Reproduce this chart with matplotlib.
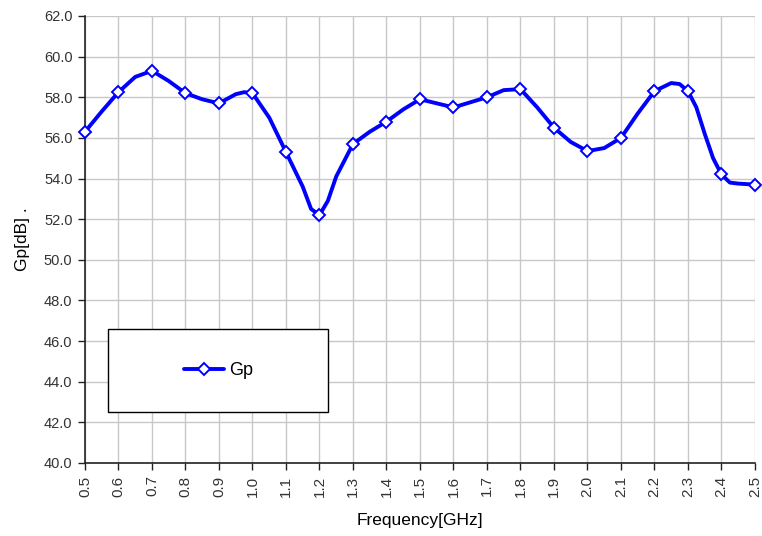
import matplotlib
matplotlib.use('Agg')
import matplotlib.pyplot as plt
from matplotlib.patches import Rectangle
import numpy as np

plt.rcParams['font.family'] = ['Liberation Sans', 'DejaVu Sans']

# measured curve (GHz, dB)
freq = [0.50, 0.55, 0.60, 0.65, 0.70, 0.75, 0.80, 0.85, 0.90, 0.95, 0.975,
        1.00, 1.05, 1.10, 1.15, 1.175, 1.20, 1.225, 1.25, 1.30, 1.35, 1.40,
        1.45, 1.50, 1.55, 1.60, 1.65, 1.70, 1.75, 1.80, 1.85, 1.90, 1.95,
        2.00, 2.05, 2.10, 2.15, 2.20, 2.25, 2.275, 2.30, 2.325, 2.35, 2.375,
        2.40, 2.425, 2.45, 2.50]
gp = [56.3, 57.3, 58.25, 59.0, 59.3, 58.8, 58.2, 57.9, 57.7, 58.15, 58.25,
      58.2, 57.0, 55.3, 53.6, 52.5, 52.2, 52.9, 54.1, 55.7, 56.3, 56.8,
      57.4, 57.9, 57.7, 57.5, 57.75, 58.0, 58.35, 58.4, 57.5, 56.5, 55.8,
      55.35, 55.5, 56.0, 57.2, 58.3, 58.7, 58.65, 58.3, 57.5, 56.2, 55.0,
      54.2, 53.8, 53.75, 53.7]

x_ticks = [round(0.5 + 0.1 * i, 1) for i in range(21)]
y_ticks = [40 + 2 * i for i in range(12)]

# markers only at the 0.1 GHz points
mark_idx = [i for i, f in enumerate(freq) if abs(round(f * 10) - f * 10) < 1e-6]

fig = plt.figure(figsize=(7.62, 5.36), dpi=100)
ax = fig.add_axes([0.1115, 0.1362, 0.8793, 0.834])

ax.plot(freq, gp, color='#0000ff', lw=2.8, marker='D', markersize=6,
        markerfacecolor='white', markeredgecolor='#0000ff', markeredgewidth=1.4,
        markevery=mark_idx, label='Gp', zorder=3, clip_on=False,
        solid_joinstyle='round', solid_capstyle='round')

ax.set_xlim(0.5, 2.5)
ax.set_ylim(40, 62)
ax.set_xticks(x_ticks)
ax.set_xticklabels(['{:.1f}'.format(v) for v in x_ticks], rotation=90, fontsize=11, color='#333333')
ax.set_yticks(y_ticks)
ax.set_yticklabels(['{:.1f}'.format(v) for v in y_ticks], fontsize=10.5, color='#333333')
ax.grid(True, color='#c8c8c8', lw=1)
ax.set_axisbelow(True)
for s in ['top', 'right']:
    ax.spines[s].set_visible(False)
for s in ['left', 'bottom']:
    ax.spines[s].set_color('#222222')
    ax.spines[s].set_linewidth(1.2)
ax.tick_params(direction='out', length=5, width=1, color='#222222', pad=4)

ax.set_xlabel('Frequency[GHz]', fontsize=12.5, labelpad=12)
ax.set_ylabel('Gp[dB] .', fontsize=12.5, labelpad=10)

# legend box
box = Rectangle((0.034, 0.114), 0.329, 0.186, transform=ax.transAxes,
                facecolor='white', edgecolor='black', lw=1, zorder=4)
ax.add_patch(box)
leg = ax.legend(loc='center', bbox_to_anchor=(0.2, 0.207), frameon=False,
                fontsize=13, handlelength=2.2, handletextpad=0.3)
leg.set_zorder(5)

fig.savefig('out.png', dpi=100)
